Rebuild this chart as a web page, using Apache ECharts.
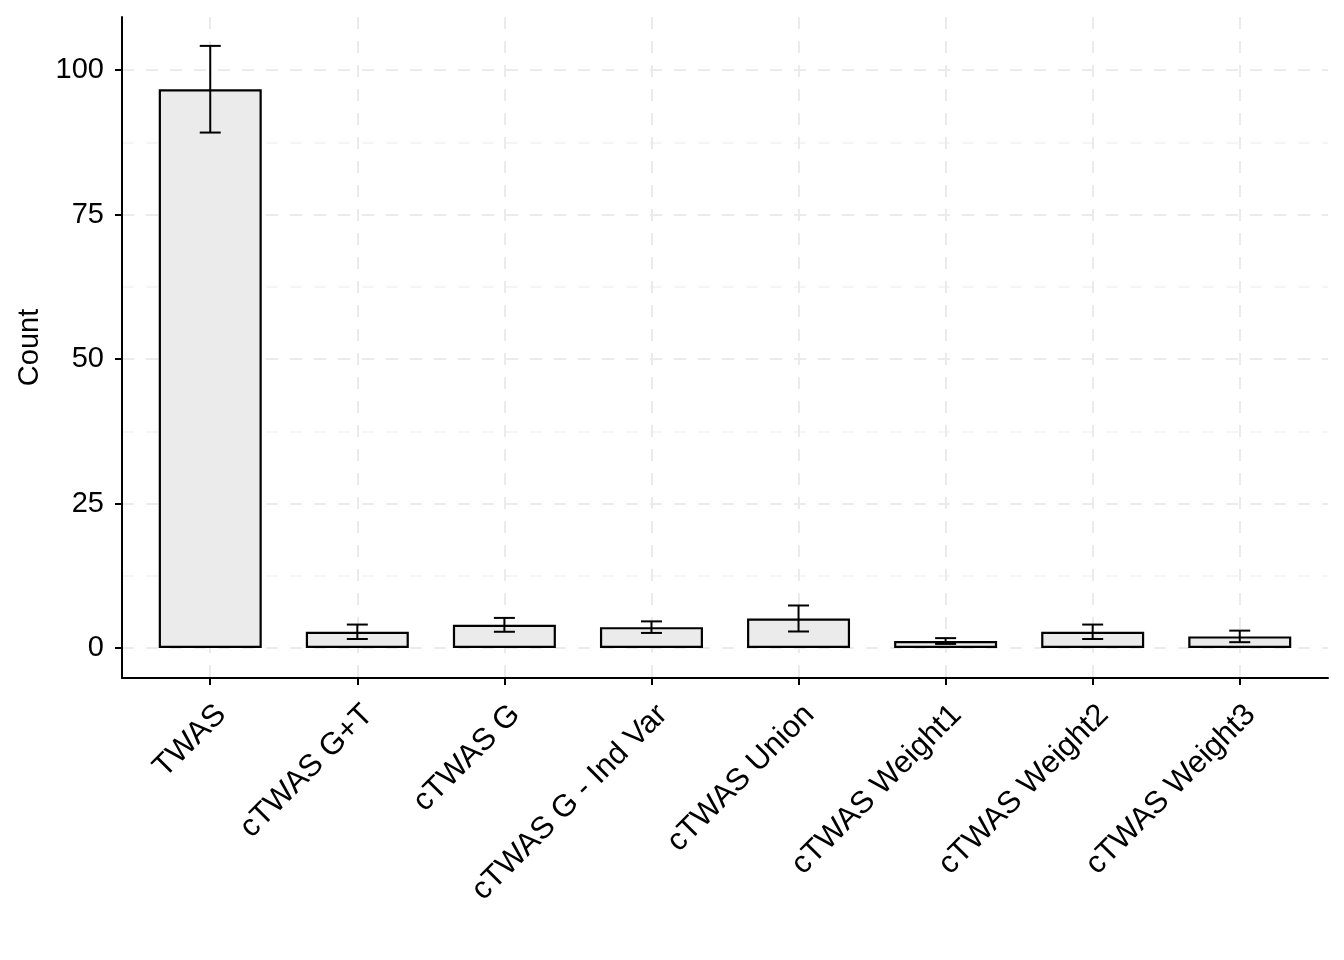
<!DOCTYPE html>
<html>
<head>
<meta charset="utf-8">
<script src="https://cdn.jsdelivr.net/npm/echarts@6/dist/echarts.min.js"></script>
<style>html,body{margin:0;padding:0;background:#fff}#c{width:1344px;height:960px}</style>
</head>
<body>
<div id="c"></div>
<script>
const categories = ['TWAS', 'cTWAS G+T', 'cTWAS G', 'cTWAS G - Ind Var', 'cTWAS Union', 'cTWAS Weight1', 'cTWAS Weight2', 'cTWAS Weight3'];
const counts = [96.7, 2.8, 4.0, 3.6, 5.1, 1.2, 2.8, 2.0];
const errors = [7.5, 1.25, 1.2, 1.0, 2.25, 0.5, 1.25, 1.0];
const yTicks = [0, 25, 50, 75, 100];
const yMinorTicks = [12.5, 37.5, 62.5, 87.5];

const xPos = categories.map((c, i) => i);
const font = 'Liberation Sans, Arial, Helvetica, sans-serif';
const gridColor = '#EBEBEB';
const fs = 29;
const fsX = 31;

const chart = echarts.init(document.getElementById('c'), null, {renderer: 'canvas'});
chart.setOption({
  animation: false,
  backgroundColor: '#fff',
  grid: {left: 122, right: 16, top: 17, bottom: 282, containLabel: false},
  xAxis: [{
    type: 'value', min: -0.6, max: 7.6,
    axisLine: {show: true, onZero: false, lineStyle: {color: '#000', width: 2}},
    axisTick: {show: true, customValues: xPos, length: 7, lineStyle: {color: '#000', width: 2}},
    axisLabel: {show: true, customValues: xPos, rotate: 45, margin: 21, align: 'right', verticalAlign: 'top',
      color: '#000', fontSize: fsX, fontFamily: font,
      formatter: v => categories[Math.round(v)] || ''},
    splitLine: {show: true, lineStyle: {color: gridColor, width: 2, type: [12, 12]}}
  }],
  yAxis: [{
    type: 'value', min: -5.2, max: 109.2,
    name: 'Count', nameLocation: 'middle', nameGap: 78,
    nameTextStyle: {color: '#000', fontSize: fs, fontFamily: font},
    axisLine: {show: true, onZero: false, lineStyle: {color: '#000', width: 2}},
    axisTick: {show: true, customValues: yTicks, length: 7, lineStyle: {color: '#000', width: 2}},
    axisLabel: {show: true, customValues: yTicks, margin: 18, color: '#000', fontSize: fs, fontFamily: font},
    splitLine: {show: true, lineStyle: {color: gridColor, width: 2, type: [12, 12]}}
  }, {
    type: 'value', min: -5.2, max: 109.2, position: 'left',
    axisLine: {show: false}, axisLabel: {show: false, customValues: yMinorTicks},
    axisTick: {show: false, customValues: yMinorTicks},
    splitLine: {show: true, lineStyle: {color: '#F2F2F2', width: 1.5, type: [12, 12]}}
  }],
  series: [{
    type: 'bar',
    data: counts.map((v, i) => [xPos[i], v]),
    barWidth: 103,
    itemStyle: {color: '#EBEBEB', borderColor: '#000', borderWidth: 2.2},
    z: 2
  }, {
    type: 'custom',
    data: counts.map((v, i) => [xPos[i], v - errors[i], v + errors[i]]),
    renderItem: function (params, api) {
      const x = api.value(0);
      const lo = api.coord([x, api.value(1)]);
      const hi = api.coord([x, api.value(2)]);
      const hw = 10.5;
      const style = {stroke: '#000', lineWidth: 2};
      return {
        type: 'group',
        children: [
          {type: 'line', shape: {x1: lo[0], y1: lo[1], x2: hi[0], y2: hi[1]}, style},
          {type: 'line', shape: {x1: hi[0] - hw, y1: hi[1], x2: hi[0] + hw, y2: hi[1]}, style},
          {type: 'line', shape: {x1: lo[0] - hw, y1: lo[1], x2: lo[0] + hw, y2: lo[1]}, style}
        ]
      };
    },
    z: 3
  }]
});
</script>
</body>
</html>
